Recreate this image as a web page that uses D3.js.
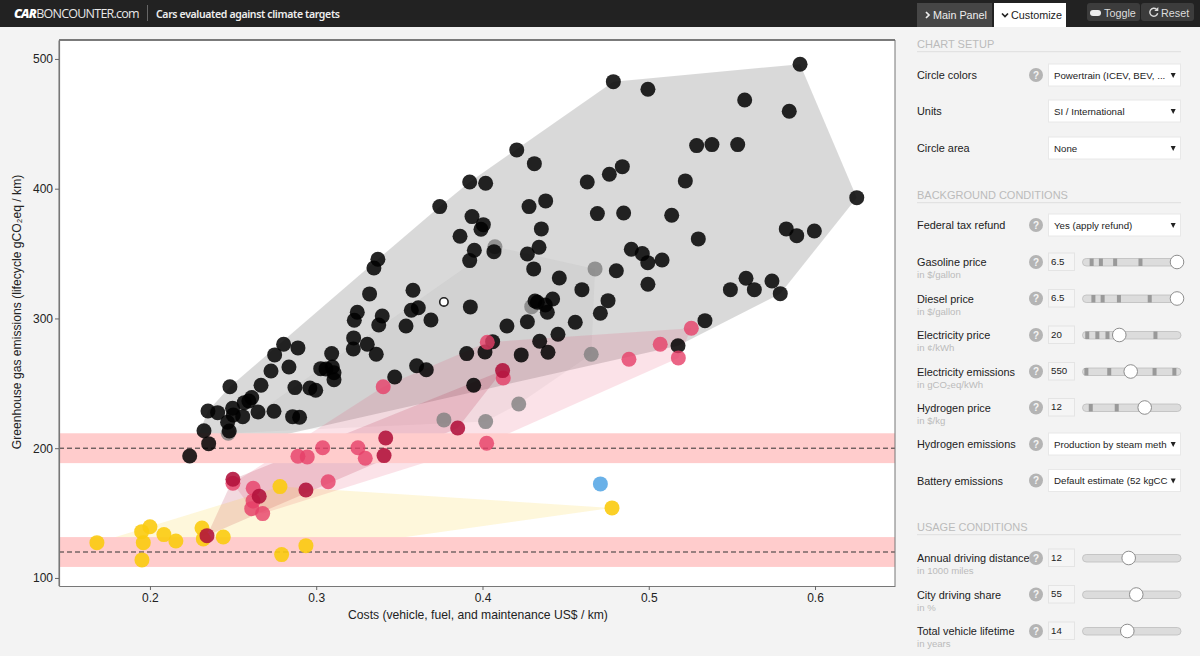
<!DOCTYPE html>
<html><head><meta charset="utf-8">
<style>html,body{margin:0;padding:0;background:#f3f3f3;overflow:hidden}svg{display:block}text{font-family:"Liberation Sans",Arial,sans-serif}</style>
<script src="https://cdn.jsdelivr.net/npm/d3@7"></script></head><body>
<svg id="c" width="1200" height="656"></svg>
<script>
const icev=[[.4787,482.5],[.4995,476.6],[.5910,495.9],[.5577,468.4],[.5845,459.7],[.5288,433.2],[.5380,434],[.5535,434],[.4206,429.9],[.4312,419.3],[.4841,417],[.4763,411.1],[.4630,405.2],[.5220,406],[.3923,405.2],[.4019,404.2],[.3743,386.2],[.4380,390.6],[.4280,386.2],[.4691,380.8],[.4849,381.3],[.5138,379.5],[.6251,393.1],[.3937,378.5],[.4005,372.3],[.3991,368.7],[.4354,369],[.3865,363.4],[.5298,361.3],[.5827,369],[.5890,363.8],[.5996,367.4],[.4069,351.5],[.3951,352.6],[.3923,344.6],[.4340,354.9],[.4270,349.7],[.4895,353.3],[.4961,350],[.5080,345.1],[.4994,343],[.4805,336.8],[.4308,338.2],[.4462,331.2],[.4995,326.4],[.5585,331],[.5741,328.9],[.5635,322.2],[.5491,322.2],[.5791,319.1],[.4598,322.2],[.4422,315],[.4316,313.5],[.4330,312.5],[.4378,310.4],[.4390,304.8],[.4755,313.7],[.4709,304],[.3927,308.9],[.3582,321.7],[.3614,308.3],[.3572,306.3],[.3690,298.8],[.3540,294.2],[.4270,297.5],[.4147,294.2],[.4558,297.1],[.5338,298.3],[.4454,287.8],[.4344,282.4],[.4394,274],[.5176,279],[.4061,282.1],[.4015,274.2],[.3905,272.9],[.4233,271.9],[.3604,263.6],[.3662,260.5],[.3371,345.6],[.3347,338.9],[.3321,318.9],[.3247,304.8],[.3229,298.6],[.3397,301.9],[.3376,295],[.3225,285],[.3223,276.5],[.3307,280.1],[.3361,272.4],[.2804,280.1],[.2890,277.3],[.2750,271.9],[.3093,272.9],[.2836,262.6],[.2728,259.5],[.3027,261.3],[.3059,261.1],[.3097,262.6],[.3107,258.2],[.3107,252.8],[.2668,248.5],[.2481,247.4],[.2872,246.7],[.2962,246.4],[.2997,244.7],[.2612,239],[.2595,236.4],[.2567,235.1],[.2497,230.8],[.2349,228.7],[.2407,227.4],[.2558,224.3],[.2650,227.9],[.2746,228.5],[.2858,224.3],[.2900,223.9],[.2501,225.6],[.2467,220],[.2477,213.3],[.2325,213.5],[.2353,203.5],[.2239,194],[.3472,254.9],[.3947,248.5]];
const hev=[[.4075,355.3],[.4677,338.2],[.4654,272.4],[.4218,234.1],[.3768,221.8],[.4019,220.5],[.2471,211.5],[.4296,309.1]];
const phev=[[.5256,292.5],[.5069,280.1],[.4881,268.6],[.5178,269.6],[.4029,281.7],[.4125,254.1],[.3403,247.4],[.4025,203.8],[.3251,200.4],[.3295,192.3],[.3039,200.4],[.2890,193.8],[.2946,193.3],[.2499,173],[.2621,169.1],[.2620,159.4],[.2612,153.4],[.2678,149.6],[.3072,174.2]];
const erev=[[.4121,259.8],[.3851,215.6],[.3418,207.9],[.3408,194.3],[.2499,176.1],[.2657,163],[.2938,167.8],[.2343,132.6]];
const bev=[[.2782,170.4],[.1681,127.2],[.1950,135.7],[.2000,139.5],[.1960,127.2],[.1952,113.9],[.2084,133.4],[.2156,128.5],[.2313,138.5],[.2321,130.1],[.2441,131.6],[.2792,118],[.2938,124.9],[.4779,154]];
const fcev=[[.4709,172.5]];
const highlighted=[[.3768,312.7]];
const xTicks=[.2,.3,.4,.5,.6];
const yTicks=[100,200,300,400,500];
const targets=[200,120];
const targetHalfWidth=11.5;
const xTitle="Costs (vehicle, fuel, and maintenance US$ / km)";
const yTitle="Greenhouse gas emissions (lifecycle gCO₂eq / km)";

const selectRows=[["Circle colors","Powertrain (ICEV, BEV, ...",75,true],["Units","SI / International",111,false],["Circle area","None",148,false],["Federal tax refund","Yes (apply refund)",225,true],["Hydrogen emissions","Production by steam meth",444,true],["Battery emissions","Default estimate (52 kgCC",480.5,true]];
const sliderRows=[
["Gasoline price","in $/gallon","6.5",262,1,[.03,.135,.297,.585]],
["Diesel price","in $/gallon","6.5",298.5,1,[.05,.155,.34,.69]],
["Electricity price","in ¢/kWh","20",335,.344,[-.02,.095,.21,.755]],
["Electricity emissions","in gCO₂eq/kWh","550",371.5,.474,[-.03,.23,.745,.97]],
["Hydrogen price","in $/kg","12",407.5,.633,[.02,.315]],
["Annual driving distance","in 1000 miles","12",558,.451,[]],
["City driving share","in %","55",594.5,.537,[]],
["Total vehicle lifetime","in years","14",631,.435,[]]];
const sections=[["CHART SETUP",44],["BACKGROUND CONDITIONS",195],["USAGE CONDITIONS",527]];

const svg=d3.select("#c");
const box={l:59,r:895,t:40,b:586};
const x=d3.scaleLinear().domain([.1453,.6481]).range([box.l,box.r]);
const y=d3.scaleLinear().domain([93.8,514.6]).range([box.b,box.t]);

// plot
svg.append("rect").attr("x",box.l).attr("y",box.t).attr("width",box.r-box.l).attr("height",box.b-box.t).attr("fill","#fff");
const clipId="plotclip";
svg.append("clipPath").attr("id",clipId).append("rect").attr("x",box.l).attr("y",box.t).attr("width",box.r-box.l).attr("height",box.b-box.t);
const plot=svg.append("g").attr("clip-path",`url(#${clipId})`);
const groups=[
 {d:icev,c:"#000000",o:.85,h:.15},
 {d:hev,c:"#808080",o:.8,h:.08},
 {d:phev,c:"#e63e68",o:.8,h:.15},
 {d:erev,c:"#b0103a",o:.88,h:.16},
 {d:bev,c:"#fbcb10",o:.9,h:.15},
 {d:fcev,c:"#5aa9e6",o:.9,h:0}];
const line=d3.line();
groups.filter(g=>g.h>0).forEach(g=>{
  const hull=d3.polygonHull(g.d.map(p=>[x(p[0]),y(p[1])]));
  plot.append("path").attr("d",line(hull)+"Z").attr("fill",g.c).attr("fill-opacity",g.h);
});
targets.forEach(t=>{
  plot.append("rect").attr("x",box.l).attr("width",box.r-box.l).attr("y",y(t+targetHalfWidth)).attr("height",y(t-targetHalfWidth)-y(t+targetHalfWidth)).attr("fill","#ffcccc");
  plot.append("line").attr("x1",box.l).attr("x2",box.r).attr("y1",y(t)).attr("y2",y(t)).attr("stroke","#333").attr("stroke-dasharray","5,3");
});
[groups[1],groups[0],groups[4],groups[2],groups[3],groups[5]].forEach(g=>{
  plot.append("g").selectAll("circle").data(g.d).join("circle")
   .attr("cx",d=>x(d[0])).attr("cy",d=>y(d[1])).attr("r",7.5).attr("fill",g.c).attr("fill-opacity",g.o);
});
plot.selectAll("circle.hl").data(highlighted).join("circle").attr("class","hl")
 .attr("cx",d=>x(d[0])).attr("cy",d=>y(d[1])).attr("r",4.2).attr("fill","#fff").attr("stroke","#222").attr("stroke-width",1.6);

// frame + axes
svg.append("path").attr("d",`M${box.l},${box.b}V${box.t+1}q0,-1 1,-1H${box.r}V${box.b}`).attr("fill","none").attr("stroke","#777").attr("stroke-width",1);
svg.append("line").attr("x1",box.l).attr("x2",box.r).attr("y1",box.t).attr("y2",box.t).attr("stroke","#666").attr("stroke-width",1.5);
const ax=svg.append("g").attr("transform",`translate(0,${box.b})`).call(d3.axisBottom(x).tickValues(xTicks).tickFormat(d3.format(".1f")).tickSize(4).tickSizeOuter(0).tickPadding(3));
const ay=svg.append("g").attr("transform",`translate(${box.l},0)`).call(d3.axisLeft(y).tickValues(yTicks).tickFormat(d3.format("d")).tickSize(4).tickSizeOuter(0).tickPadding(2));
[ax,ay].forEach(a=>{a.selectAll("text").attr("font-size",12).attr("fill","#222").style("font-family",'"Liberation Sans",Arial,sans-serif');a.selectAll(".tick line").attr("stroke","#666");a.select(".domain").attr("stroke","#777").attr("stroke-width",1.2);});
svg.append("text").attr("x",478).attr("y",619).attr("text-anchor","middle").attr("font-size",12.15).attr("fill","#222").text(xTitle);
svg.append("text").attr("transform","translate(21,312) rotate(-90)").attr("text-anchor","middle").attr("font-size",12.15).attr("fill","#222").text(yTitle);

// header
svg.append("rect").attr("width",1200).attr("height",27).attr("fill","#222");
const logo=svg.append("text").attr("x",14).attr("y",18).attr("font-size",12.5).attr("letter-spacing",-.75).attr("fill","#e8e8e8").style("font-family",'"Open Sans"');
logo.append("tspan").attr("font-weight",800).attr("font-style","italic").attr("fill","#fff").text("CAR");
logo.append("tspan").text("BONCOUNTER.com");
svg.append("line").attr("x1",147.5).attr("x2",147.5).attr("y1",5).attr("y2",21).attr("stroke","#666");
svg.append("text").attr("x",156).attr("y",17.5).attr("font-size",10.5).attr("font-weight",600).attr("fill","#eee").attr("letter-spacing",-.35).style("font-family",'"Noto Sans"').text("Cars evaluated against climate targets");

// tabs
svg.append("rect").attr("x",917).attr("y",3).attr("width",75).attr("height",24).attr("fill","#464646");
svg.append("rect").attr("x",994).attr("y",3).attr("width",72).attr("height",24).attr("fill","#fff");
svg.append("path").attr("d","M926,12l3,3l-3,3").attr("fill","none").attr("stroke","#eee").attr("stroke-width",1.7);
svg.append("text").attr("x",933).attr("y",19).attr("font-size",10.8).attr("fill","#eee").text("Main Panel");
svg.append("path").attr("d","M1002,13.5l3,3l3,-3").attr("fill","none").attr("stroke","#222").attr("stroke-width",1.7);
svg.append("text").attr("x",1011).attr("y",19).attr("font-size",10.8).attr("fill","#222").text("Customize");
svg.append("rect").attr("x",1087).attr("y",3).attr("width",53).attr("height",18).attr("rx",3).attr("fill","#3c3c3c");
svg.append("rect").attr("x",1141).attr("y",3).attr("width",53).attr("height",18).attr("rx",3).attr("fill","#3c3c3c");
svg.append("rect").attr("x",1090).attr("y",10).attr("width",11).attr("height",6).attr("rx",3).attr("fill","#eee");
svg.append("text").attr("x",1104).attr("y",17).attr("font-size",10.8).attr("fill","#ddd").text("Toggle");
svg.append("path").attr("d","M1156.5,9.2a4,4 0 1 0 1.2,4").attr("fill","none").attr("stroke","#ddd").attr("stroke-width",1.4);
svg.append("path").attr("d","M1158.3,7v4h-4z").attr("fill","#ddd");
svg.append("text").attr("x",1161).attr("y",17).attr("font-size",10.8).attr("fill","#ddd").text("Reset");

// panel
sections.forEach(([t,yy])=>{
  svg.append("text").attr("x",917).attr("y",yy+4).attr("font-size",11).attr("fill","#bbb").text(t);
  svg.append("rect").attr("x",917).attr("y",yy+7).attr("width",264).attr("height",1.2).attr("fill","#e2e2e2");
});
function help(yy){
  svg.append("circle").attr("cx",1036).attr("cy",yy).attr("r",7).attr("fill","#b4b4b4");
  svg.append("text").attr("x",1036).attr("y",yy+3.8).attr("text-anchor","middle").attr("font-size",10).attr("font-weight",700).attr("fill","#f4f4f4").text("?");
}
selectRows.forEach(([lab,val,yy,h])=>{
  svg.append("text").attr("x",917).attr("y",yy+4).attr("font-size",10.9).attr("fill","#222").text(lab);
  if(h)help(yy);
  svg.append("rect").attr("x",1048.5).attr("y",yy-11).attr("width",132).attr("height",22).attr("fill","#fff").attr("stroke","#e8e8e8");
  svg.append("text").attr("x",1054).attr("y",yy+3.5).attr("font-size",9.7).attr("fill","#222").text(val);
  svg.append("path").attr("d",`M1170.7,${yy-2}h5l-2.5,5z`).attr("fill","#222");
});
const thumb=d3.scaleLinear().domain([0,1]).range([1089,1177]);
sliderRows.forEach(([lab,sub,val,yy,f,marks])=>{
  svg.append("text").attr("x",917).attr("y",yy+4).attr("font-size",10.9).attr("fill","#222").text(lab);
  svg.append("text").attr("x",917).attr("y",yy+16).attr("font-size",9.6).attr("fill","#bbb").text(sub);
  help(yy);
  svg.append("rect").attr("x",1048.5).attr("y",yy-9).attr("width",26).attr("height",17.5).attr("fill","#f5f5f5").attr("stroke","#e4e4e4");
  svg.append("text").attr("x",1051).attr("y",yy+2.5).attr("font-size",9.7).attr("fill","#222").text(val);
  svg.append("rect").attr("x",1082.5).attr("y",yy-3.5).attr("width",98.5).attr("height",7.5).attr("rx",3.7).attr("fill","#dcdcdc").attr("stroke","#bdbdbd").attr("stroke-width",.8);
  marks.forEach(m=>svg.append("rect").attr("x",thumb(m)-2).attr("y",yy-3.5).attr("width",4).attr("height",7.5).attr("fill","#999"));
  svg.append("circle").attr("cx",thumb(f)).attr("cy",yy).attr("r",6.8).attr("fill","#fff").attr("stroke","#8e8e8e").attr("stroke-width",1);
});
</script></body></html>
